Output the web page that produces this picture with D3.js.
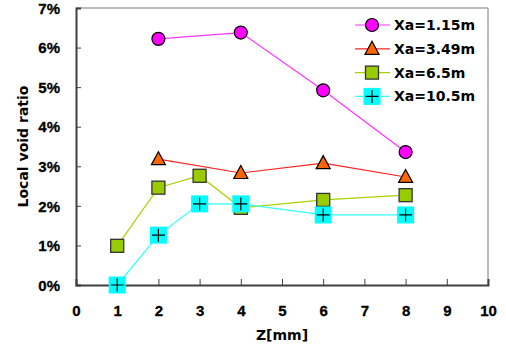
<!DOCTYPE html>
<html><head><meta charset="utf-8">
<script src="https://cdn.jsdelivr.net/npm/d3@7"></script>
<style>body{margin:0;background:#fff}svg{display:block}</style>
</head><body>
<svg id="c" width="506" height="349"></svg>
<script>
const xTicks = [0,1,2,3,4,5,6,7,8,9,10];
const yTicks = [0,1,2,3,4,5,6,7];
const seriesNames = ["Xa=1.15m","Xa=3.49m","Xa=6.5m","Xa=10.5m"];
const z115 = [2,4,6,8];
const v115 = [6.22,6.38,4.92,3.36];
const z349 = [2,4,6,8];
const v349 = [3.18,2.83,3.08,2.73];
const z65 = [1,2,3,4,6,8];
const v65 = [0.99,2.46,2.76,1.95,2.15,2.27];
const z105 = [1,2,3,4,6,8];
const v105 = [0.0,1.26,2.05,2.05,1.77,1.77];

const svg = d3.select("#c");
const L=76, R=488, T=8, B=285;
const x = d3.scaleLinear().domain([0,10]).range([L,R]);
const y = d3.scaleLinear().domain([0,7]).range([B,T]);

// frame
svg.append("line").attr("x1",L).attr("x2",R).attr("y1",T).attr("y2",T).attr("stroke","#a6a6a6").attr("stroke-width",1.5);
svg.append("line").attr("x1",R).attr("x2",R).attr("y1",T).attr("y2",B).attr("stroke","#a6a6a6").attr("stroke-width",1.5);

const xAxis = svg.append("g").attr("transform",`translate(0,${B})`)
  .call(d3.axisBottom(x).tickValues(xTicks).tickSize(-6).tickPadding(20).tickFormat(d3.format("d")));
const yAxis = svg.append("g").attr("transform",`translate(${L},0)`)
  .call(d3.axisLeft(y).tickValues(yTicks).tickSize(-5).tickPadding(16).tickFormat(d=>d+"%"));
[xAxis,yAxis].forEach(g=>{
  g.select(".domain").attr("stroke","#404040").attr("stroke-width",2);
  g.selectAll(".tick line").attr("stroke","#404040").attr("stroke-width",1);
  g.selectAll(".tick text").attr("fill","#000").attr("font-family","Liberation Sans, Arial, sans-serif")
   .attr("font-weight","bold").attr("font-size","15px").attr("stroke","#000").attr("stroke-width",0.3);
});
yAxis.selectAll(".tick text").attr("dy","0.35em");
xAxis.selectAll(".tick text").attr("dy","0.71em");

svg.append("text").attr("x",x(5)).attr("y",340).attr("text-anchor","middle")
  .attr("font-family","DejaVu Sans, sans-serif").attr("font-weight","bold").attr("font-size","14px").text("Z[mm]");
svg.append("text").attr("transform",`translate(28,${(T+B)/2}) rotate(-90)`).attr("text-anchor","middle")
  .attr("font-family","DejaVu Sans, sans-serif").attr("font-weight","bold").attr("font-size","14px").text("Local void ratio");

const series = [
  {name:seriesNames[0], z:z115, v:v115, line:"#ff33ff", fill:"#ff00ff", sym:"circle"},
  {name:seriesNames[1], z:z349, v:v349, line:"#ff2020", fill:"#ff6600", sym:"triangle"},
  {name:seriesNames[2], z:z65, v:v65, line:"#a6d200", fill:"#99cc00", sym:"square"},
  {name:seriesNames[3], z:z105, v:v105, line:"#33ffff", fill:"#00ffff", sym:"cross"}
];

function marker(g, s, cx, cy){
  if(s.sym==="circle"){
    g.append("circle").attr("cx",cx).attr("cy",cy).attr("r",6.5).attr("fill",s.fill).attr("stroke","#000").attr("stroke-width",1.2);
  } else if(s.sym==="triangle"){
    g.append("path").attr("d",`M${cx},${cy-7.5}L${cx+7},${cy+5.5}L${cx-7},${cy+5.5}Z`).attr("fill",s.fill).attr("stroke","#000").attr("stroke-width",1.2);
  } else if(s.sym==="square"){
    g.append("rect").attr("x",cx-6.5).attr("y",cy-6.5).attr("width",13).attr("height",13).attr("fill",s.fill).attr("stroke","#333").attr("stroke-width",1.3);
  } else {
    g.append("rect").attr("x",cx-8.5).attr("y",cy-8.5).attr("width",17).attr("height",17).attr("fill",s.fill);
    g.append("path").attr("d",`M${cx-6.5},${cy}H${cx+6.5}M${cx},${cy-6.5}V${cy+6.5}`).attr("stroke","#000").attr("stroke-width",1.2).attr("fill","none");
  }
}

const line = d3.line().x(d=>x(d[0])).y(d=>y(d[1]));
series.forEach(s=>{
  const pts = s.z.map((z,i)=>[z,s.v[i]]);
  const g = svg.append("g");
  g.append("path").attr("d",line(pts)).attr("fill","none").attr("stroke",s.line).attr("stroke-width",1.2);
  pts.forEach(p=>marker(g,s,x(p[0]),y(p[1])));
});

// legend
const lg = svg.append("g");
series.forEach((s,i)=>{
  const cy = 25 + i*23.8;
  lg.append("line").attr("x1",355).attr("x2",390).attr("y1",cy).attr("y2",cy).attr("stroke",s.line).attr("stroke-width",1.2);
  marker(lg,s,372,cy);
  lg.append("text").attr("x",394).attr("y",cy).attr("dy","0.36em")
    .attr("font-family","DejaVu Sans, sans-serif").attr("font-weight","bold").attr("font-size","14px").text(s.name);
});
</script>
</body></html>
